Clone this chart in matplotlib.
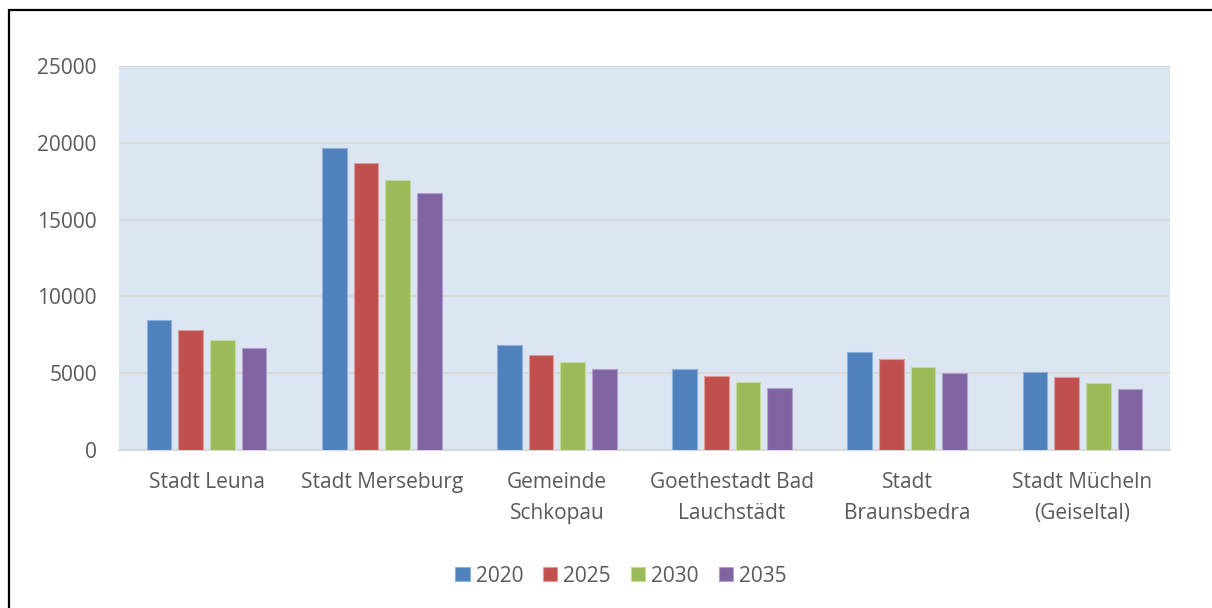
import matplotlib
matplotlib.use("Agg")
import matplotlib.pyplot as plt
import numpy as np
from matplotlib.patches import Rectangle

categories = ["Stadt Leuna", "Stadt Merseburg", "Gemeinde\nSchkopau",
              "Goethestadt Bad\nLauchstädt", "Stadt\nBraunsbedra", "Stadt Mücheln\n(Geiseltal)"]
years = ["2020", "2025", "2030", "2035"]
v2020 = [8490, 19640, 6810, 5260, 6375, 5100]
v2025 = [7780, 18690, 6200, 4825, 5915, 4745]
v2030 = [7130, 17580, 5700, 4410, 5415, 4345]
v2035 = [6610, 16720, 5260, 4060, 5020, 3990]
series = [v2020, v2025, v2030, v2035]
yticks = [0, 5000, 10000, 15000, 20000, 25000]

colors = ["#4F81BD", "#C0504D", "#9BBB59", "#8064A2"]
edges = ["#8FB0DB", "#E09A98", "#C3DA9B", "#B3A0CC"]

plt.rcParams['font.family'] = ['Open Sans', 'DejaVu Sans']
fig = plt.figure(figsize=(12.12, 6.08), dpi=100)
ax = fig.add_axes([119/1212, 158/608, 1051/1212, 384/608])
ax.set_facecolor("#DCE6F2")

x = np.arange(len(categories))
pitch = 0.181
width = 0.141
for i, (vals, c, e, lab) in enumerate(zip(series, colors, edges, years)):
    ax.bar(x + (i - 1.5) * pitch, vals, width=width, color=c, edgecolor=e,
           linewidth=0.8, label=lab, zorder=3)

ax.set_xlim(-0.5, len(categories) - 0.5)
ax.set_ylim(0, 25000)
ax.set_yticks(yticks)
ax.set_yticklabels([str(t) for t in yticks])
ax.grid(axis='y', color="#D9D9D9", linewidth=1.5, zorder=1)
ax.set_axisbelow(True)
for s in ['top', 'right', 'left']:
    ax.spines[s].set_visible(False)
ax.spines['bottom'].set_color("#D9D9D9")
ax.spines['bottom'].set_linewidth(1.5)
ax.tick_params(axis='both', length=0, colors="#595959", labelsize=15)
ax.tick_params(axis='y', pad=16)
ax.tick_params(axis='x', pad=16)
ax.set_xticks(x)
ax.set_xticklabels(categories, linespacing=1.6)

leg = fig.legend(loc='center', bbox_to_anchor=(621/1212, 1 - 576/608), ncol=4,
                 frameon=False, fontsize=15, handlelength=0.68, handleheight=0.68,
                 handletextpad=0.3, columnspacing=0.95)
for t in leg.get_texts():
    t.set_color("#595959")

fig.patches.append(Rectangle((9/1212, -0.1), 1.2, 1 - 10/608 + 0.1, transform=fig.transFigure,
                             fill=False, edgecolor="black", linewidth=1.6))

fig.savefig("out.png", dpi=100)
